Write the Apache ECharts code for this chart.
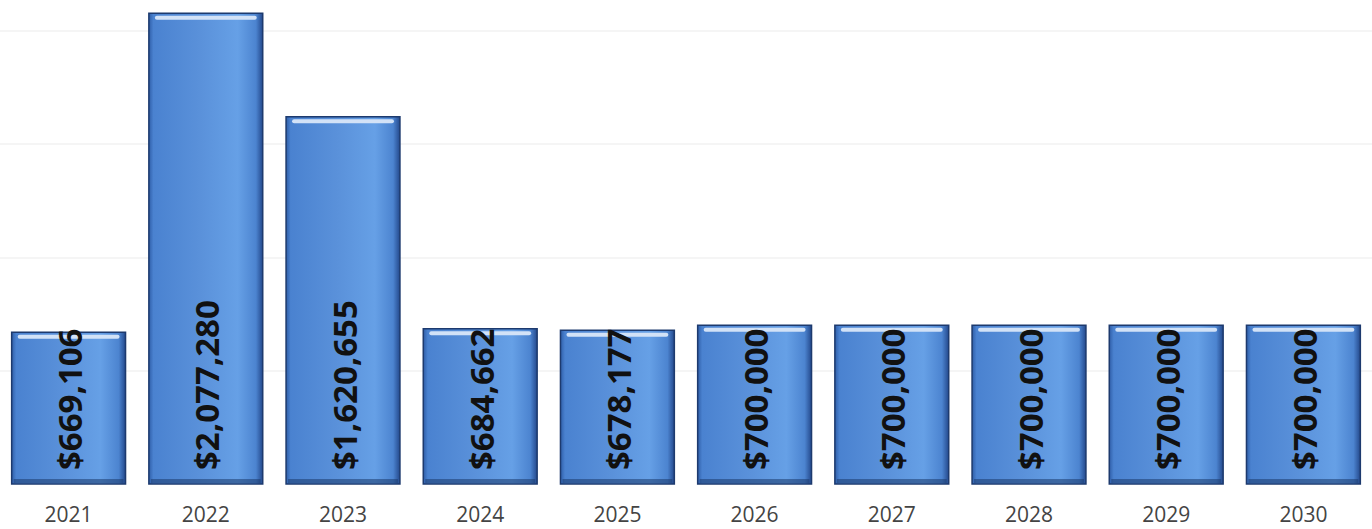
<!DOCTYPE html>
<html>
<head>
<meta charset="utf-8">
<script src="https://cdn.jsdelivr.net/npm/echarts@6/dist/echarts.min.js"></script>
<style>
  html, body { margin: 0; padding: 0; background: #ffffff; }
  #chart { width: 1372px; height: 529px; }
</style>
</head>
<body>
<div id="chart"></div>
<script>
// Yearly amounts, 2021-2030
const years = ['2021', '2022', '2023', '2024', '2025', '2026', '2027', '2028', '2029', '2030'];
const amounts = [669106, 2077280, 1620655, 684662, 678177, 700000, 700000, 700000, 700000, 700000];

const fmt = v => '$' + v.toLocaleString('en-US');

const chart = echarts.init(document.getElementById('chart'), null, { renderer: 'svg' });

// Beveled bar with a rotated value label that reads bottom-to-top
function renderBar(params, api) {
  const idx = api.value(0);
  const val = api.value(1);
  const top = api.coord([idx, val]);
  const base = api.coord([idx, 0]);
  const w = api.size([1, 0])[0] * 0.83;
  const x = top[0] - w / 2;
  const y = top[1];
  const h = base[1] - top[1];

  const bodyFill = new echarts.graphic.LinearGradient(0, 0, 1, 0, [
    { offset: 0, color: '#2f5ea8' },
    { offset: 0.04, color: '#4a82d0' },
    { offset: 0.45, color: '#5a91da' },
    { offset: 0.78, color: '#66a0e6' },
    { offset: 0.94, color: '#4c84d0' },
    { offset: 1, color: '#24498c' }
  ]);

  return {
    type: 'group',
    children: [
      {
        type: 'rect',
        shape: { x: x, y: y, width: w, height: h },
        style: { fill: bodyFill, stroke: '#1d3a6e', lineWidth: 1.5 }
      },
      {
        type: 'rect',
        shape: { x: x + 6, y: y + 2.5, width: w - 12, height: 4, r: 2 },
        style: { fill: '#d2e2f7' }
      },
      {
        type: 'rect',
        shape: { x: x + 2, y: base[1] - 5, width: w - 4, height: 4 },
        style: { fill: 'rgba(28,58,108,0.55)' }
      },
      {
        type: 'text',
        x: top[0] + 1,
        y: base[1] - 14,
        rotation: Math.PI / 2,
        style: {
          text: fmt(val),
          font: 'bold 33px "Open Sans", sans-serif',
          fill: '#111111',
          align: 'left',
          verticalAlign: 'middle'
        },
        z2: 10
      }
    ]
  };
}

chart.setOption({
  animation: false,
  backgroundColor: '#ffffff',
  grid: { left: -2, right: -6, top: 8, bottom: 45 },
  xAxis: {
    type: 'category',
    data: years,
    axisLine: { show: false },
    axisTick: { show: false },
    axisLabel: {
      color: '#444444',
      fontFamily: '"Open Sans", sans-serif',
      fontSize: 21,
      margin: 19
    }
  },
  yAxis: {
    type: 'value',
    min: 0,
    max: 2100000,
    interval: 500000,
    axisLabel: { show: false },
    axisLine: { show: false },
    axisTick: { show: false },
    splitLine: {
      show: true,
      showMinLine: false,
      showMaxLine: false,
      lineStyle: { color: '#f2f2f2', width: 1.5 }
    }
  },
  series: [{
    type: 'custom',
    renderItem: renderBar,
    encode: { x: 0, y: 1 },
    data: amounts.map((v, i) => [i, v])
  }]
});
</script>
</body>
</html>
